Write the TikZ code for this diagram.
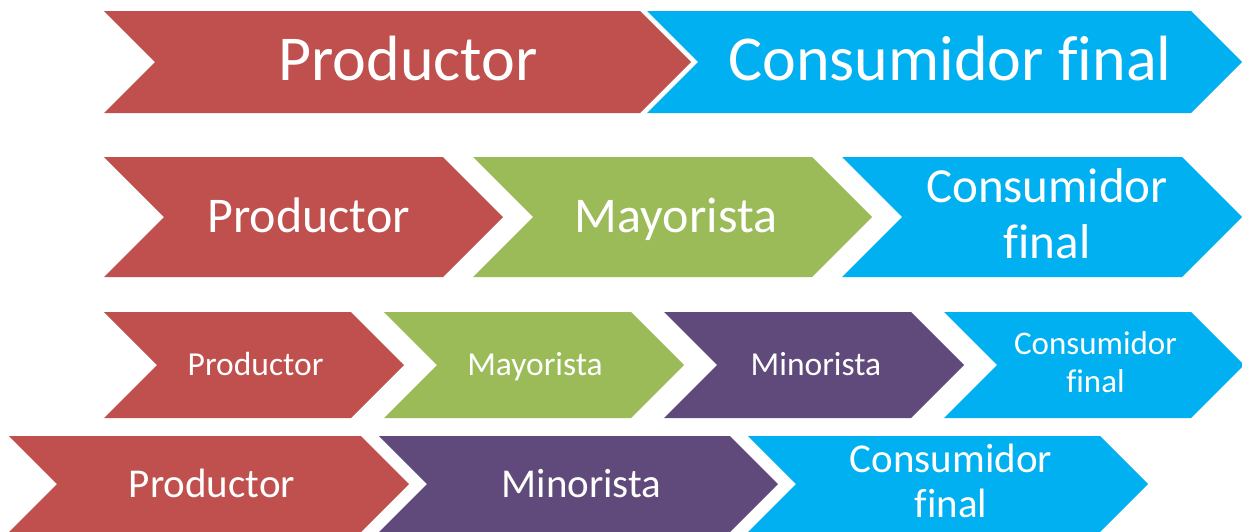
\documentclass[tikz,border=0pt]{standalone}
\usepackage{fontspec}
\setmainfont{Carlito}[Ligatures=NoCommon]
\definecolor{cred}{HTML}{C0504D}
\definecolor{cgreen}{HTML}{9BBB59}
\definecolor{cpurple}{HTML}{604A7B}
\definecolor{cblue}{HTML}{00B0F0}
% chevron: #1 left x, #2 tip x, #3 top y, #4 bottom y, #5 colour
\newcommand\chevron[5]{%
  \pgfmathsetmacro\chd{(#4-#3)/2}%
  \fill[#5] (#1,#3) -- ({#2-\chd},#3) -- (#2,{(#3+#4)/2}) -- ({#2-\chd},#4)
    -- (#1,#4) -- ({#1+\chd},{(#3+#4)/2}) -- cycle;}
\tikzset{
  lbl/.style={text=white, inner sep=0pt, align=center},
  sz/.style 2 args={font=\fontsize{#1}{#2}\selectfont}
}
\begin{document}
\begin{tikzpicture}[x=1pt,y=-1pt]
\useasboundingbox (0,0) rectangle (1242,531);
\clip (0,0) rectangle (1242,531);
% row 1
\chevron{104}{691}{11}{113}{cred}
\chevron{647}{1242}{11}{113}{cblue}
% row 2
\chevron{104}{503}{157}{277}{cred}
\chevron{473}{872}{157}{277}{cgreen}
\chevron{842}{1242}{157}{277}{cblue}
% row 3
\chevron{104}{404}{312}{418}{cred}
\chevron{384}{684}{312}{418}{cgreen}
\chevron{664}{964}{312}{418}{cpurple}
\chevron{944}{1244}{312}{418}{cblue}
% row 4
\chevron{9}{409}{436}{532}{cred}
\chevron{379}{778}{436}{532}{cpurple}
\chevron{748}{1148}{436}{532}{cblue}
% labels
\node[lbl, sz={64}{73}, anchor=base] (p1) at (408,80) {Productor};
\node[lbl, sz={64}{73}, anchor=base] (c1) at (950,80) {Consumidor final};
\node[lbl, sz={50}{57}, anchor=base] (p2) at (308.5,232) {Productor};
\node[lbl, sz={50}{57}, anchor=base] (m2) at (676,232) {Mayorista};
\node[lbl, sz={49}{56}] (c2) at (1047,213.5) {Consumidor\\final};
\node[lbl, sz={33.5}{38}, anchor=base] (p3) at (255.6,375) {Productor};
\node[lbl, sz={33.5}{38}, anchor=base] (m3) at (535,375) {Mayorista};
\node[lbl, sz={33.5}{38}, anchor=base] (n3) at (816,375) {Minorista};
\node[lbl, sz={33}{38}] (c3) at (1095.5,362.3) {Consumidor\\final};
\node[lbl, sz={41}{45}, anchor=base] (p4) at (212,497) {Productor};
\node[lbl, sz={41}{45}, anchor=base] (n4) at (581.5,497) {Minorista};
\node[lbl, sz={41}{45}] (c4) at (951,481) {Consumidor\\final};
\end{tikzpicture}
\end{document}
